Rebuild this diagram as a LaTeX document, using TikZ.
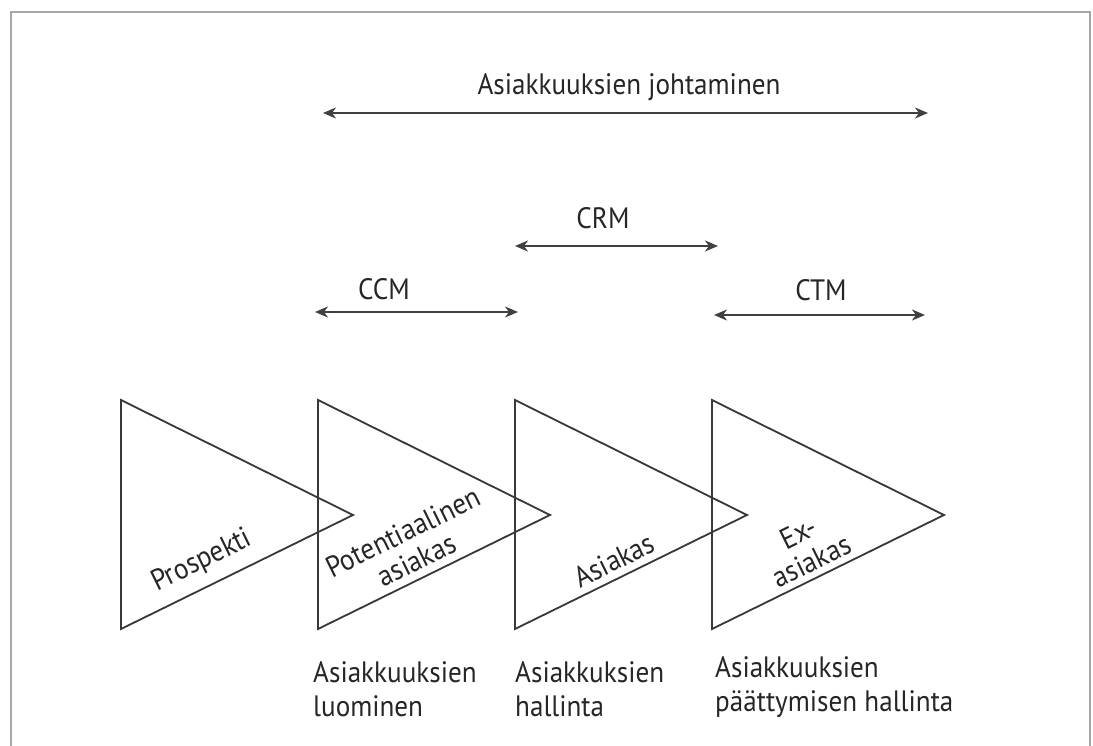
\documentclass[tikz,border=0pt]{standalone}
\usepackage{fontspec}
\setmainfont{PT Sans}[FakeStretch=0.92]
\usetikzlibrary{arrows.meta}
\begin{document}
\begin{tikzpicture}[x=1pt,y=-1pt,
  ink/.style={draw=black!78, line width=1.8pt, line join=miter},
  span/.style={draw=black!75, line width=1.8pt, {Stealth[length=13pt,width=11pt,inset=4pt]}-{Stealth[length=13pt,width=11pt,inset=4pt]}},
  lbl/.style={font=\fontsize{29.5}{34}\selectfont, text=black!85, inner sep=0pt},
  tri label/.style={lbl, font=\fontsize{29.5}{31}\selectfont, rotate=26.2, align=center},
  stage/.style={lbl, align=left, anchor=north west}]
\useasboundingbox (0,0) rectangle (1093,746);
\clip (0,0) rectangle (1093,746);
\fill[white] (0,0) rectangle (1093,746);
% page frame
\draw[black!35, line width=2pt] (11,760) -- (11,12) -- (1090,12) -- (1090,760);

% the four stage triangles
\foreach \x in {121,318,515,712}{
  \draw[ink] (\x,400) -- (\x+232,515) -- (\x,629) -- cycle;
}

% labels inside the triangles
\node[tri label] (prosp) at (202,561) {Prospekti};
\node[tri label] (pot) at (410,546) {Potentiaalinen\\asiakas};
\node[tri label] (asi) at (614,560) {Asiakas};
\node[tri label] (ex) at (805,547) {Ex-\\asiakas};

% spans above
\coordinate (jL) at (323,113); \coordinate (jR) at (928,113);
\coordinate (rL) at (515,246); \coordinate (rR) at (718,246);
\coordinate (cL) at (315,312); \coordinate (cR) at (518,312);
\coordinate (tL) at (714,315); \coordinate (tR) at (925,315);
\draw[span] (jL) -- (jR);
\draw[span] (rL) -- (rR);
\draw[span] (cL) -- (cR);
\draw[span] (tL) -- (tR);
\node[lbl, anchor=base] (johto) at (629,95) {Asiakkuuksien johtaminen};
\node[lbl, anchor=base] (crm) at (603,229) {CRM};
\node[lbl, anchor=base] (ccm) at (384,299) {CCM};
\node[lbl, anchor=base] (ctm) at (821,301) {CTM};

% stage descriptions below
\node[stage] (luo) at (313,661) {Asiakkuuksien\\luominen};
\node[stage] (hal) at (515,661) {Asiakkuksien\\hallinta};
\node[stage] (paa) at (715,656) {Asiakkuuksien\\päättymisen hallinta};
\end{tikzpicture}
\end{document}
